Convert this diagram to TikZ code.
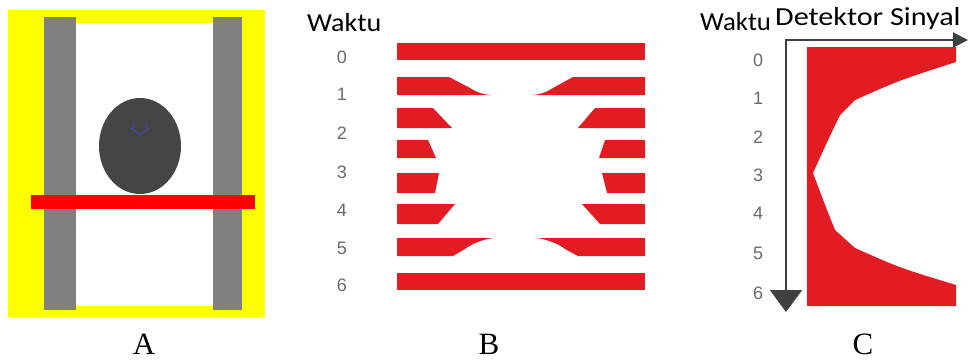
\documentclass[tikz,border=0pt]{standalone}
\usepackage{fontspec}
\setmainfont{Liberation Serif}
\newfontfamily\calibfont{Carlito}
\newfontfamily\arialfont{Liberation Sans}
\usetikzlibrary{arrows.meta}
\definecolor{plateyellow}{HTML}{FFFF00}
\definecolor{rodgray}{HTML}{808080}
\definecolor{ballgray}{HTML}{454545}
\definecolor{beamred}{HTML}{FF0000}
\definecolor{sigred}{HTML}{E31B23}
\definecolor{axisgray}{HTML}{404040}
\definecolor{ticgray}{HTML}{6A6A6A}

\begin{document}
\begin{tikzpicture}[x=1pt,y=-1pt,
  panel/.style={font=\fontsize{31}{31}\selectfont, inner sep=0pt, anchor=base},
  head/.style={font=\fontsize{26}{26}\selectfont\calibfont, inner sep=0pt, anchor=base west},
  tic/.style={font=\fontsize{18}{18}\selectfont\arialfont, text=ticgray, inner sep=0pt},
  slab/.style={fill=sigred},
  axis/.style={draw=axisgray, line width=2pt}
]
  \useasboundingbox (0,0) rectangle (970,360);

  % A
  \fill[plateyellow] (8,10) rectangle (265,317);
  \fill[white] (76,23) rectangle (213,306);
  \fill[rodgray] (44,17) rectangle (76,310);
  \fill[rodgray] (213,17) rectangle (242,310);
  \fill[ballgray] (140,146) ellipse [x radius=41pt, y radius=48pt];
  \draw[blue!45!gray, line width=0.8pt] (134,122) -- (134,128) -- (131,128)
    -- (140,135) -- (149,128) -- (146,128) -- (146,122);
  \fill[beamred] (31,195) rectangle (255,209);

  % B
  \node[head] (wb) at (307,31) {\scalebox{1.08}[1]{Waktu}};
  \foreach \t/\y in {0/57,1/94,2/133,3/172,4/210,5/248,6/285}{
    \node[tic] (tb\t) at (342,\y) {\t};
  }
  \fill[slab] (397,43) rectangle (645,60);
  \fill[slab] (397,77) -- (449,77) -- (470,88) .. controls (478,93) and (485,95) .. (492,95) -- (397,95) -- cycle;
  \fill[slab] (645,77) -- (573,77) -- (553,88) .. controls (545,93) and (538,95) .. (531,95) -- (645,95) -- cycle;
  \fill[slab] (397,108) -- (433,108) -- (452,128) -- (397,128) -- cycle;
  \fill[slab] (645,108) -- (595,108) -- (578,128) -- (645,128) -- cycle;
  \fill[slab] (397,140) -- (428,140) -- (436,158) -- (397,158) -- cycle;
  \fill[slab] (645,140) -- (605,140) -- (599,158) -- (645,158) -- cycle;
  \fill[slab] (397,173) -- (439,173) -- (435,193) -- (397,193) -- cycle;
  \fill[slab] (645,173) -- (602,173) -- (607,193) -- (645,193) -- cycle;
  \fill[slab] (397,204) -- (455,204) -- (438,224) -- (397,224) -- cycle;
  \fill[slab] (645,204) -- (582,204) -- (600,224) -- (645,224) -- cycle;
  \fill[slab] (397,238) -- (493,238) .. controls (480,240) and (470,245) .. (465,249) -- (453,256) -- (397,256) -- cycle;
  \fill[slab] (645,238) -- (537,238) .. controls (550,240) and (560,245) .. (565,249) -- (578,256) -- (645,256) -- cycle;
  \fill[slab] (397,273) rectangle (645,290);

  % C
  \node[head] (wc) at (700,30) {\scalebox{1.03}[1]{Waktu}};
  \node[head] (ds) at (775,25) {\scalebox{1.16}[1]{Detektor Sinyal}};
  \foreach \t/\y in {0/60,1/98,2/137,3/175,4/213,5/253,6/293}{
    \node[tic] (tc\t) at (758,\y) {\t};
  }
  \fill[slab] (807,47) -- (956,47) -- (956,62) .. controls (900,80) .. (855,100)
    -- (840,115) .. controls (828,140) .. (813,173) .. controls (825,205) .. (835,230) -- (855,248)
    .. controls (900,268) .. (956,285) -- (956,306) -- (807,306) -- cycle;
  \coordinate (org) at (786,40);
  \coordinate (tend) at (786,312);
  \coordinate (send) at (968,40);
  \draw[axis, {Triangle[length=22pt,width=32pt]}-{Triangle[length=15pt,width=15pt]}] (tend) -- (org) -- (send);

  \node[panel] (la) at (144,354) {A};
  \node[panel] (lb) at (489,354) {B};
  \node[panel] (lc) at (863,354) {C};
\end{tikzpicture}
\end{document}
